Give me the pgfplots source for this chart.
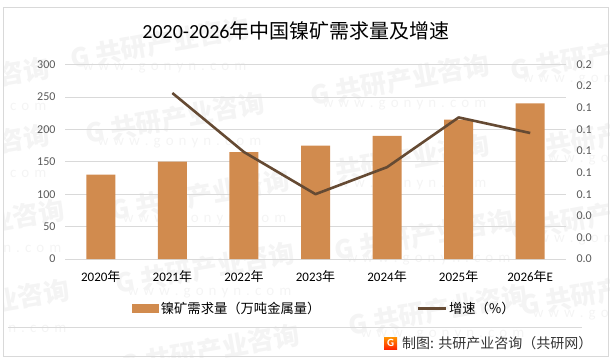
\documentclass[border=0pt]{standalone}
\usepackage{pgfplots}
\pgfplotsset{compat=1.18}
\usepackage{fontspec}
\setmainfont{Carlito}
\newfontfamily\cjk{Noto Sans CJK SC}
\definecolor{bar}{HTML}{D18B4E}
\definecolor{ln}{HTML}{654A33}
\definecolor{gridc}{HTML}{D9D9D9}
\definecolor{wm}{HTML}{F4F4F4}
\definecolor{tick}{HTML}{595959}
\newcommand{\wmark}[2]{%
  \node[rotate=10,text=wm,font=\cjk\bfseries\fontsize{26}{26}\selectfont,inner sep=0pt] at (#1,#2) {G 共研产业咨询};
  \begin{scope}[shift={(#1,#2)},rotate=10]
  \node[text=wm,font=\fontsize{15}{15}\selectfont,inner sep=0pt] at (0,-26) {w\,\,w\,\,w\,\,.\,\,g\,\,o\,\,n\,\,y\,\,n\,\,.\,\,c\,\,o\,\,m};
  \end{scope}}
\begin{document}
\begin{tikzpicture}[x=1pt,y=1pt]
\path[use as bounding box] (0,0) rectangle (612,361);
\begin{scope}
\clip (4,4) rectangle (609,354);
\wmark{160}{318}
\wmark{175}{243}
\wmark{400}{281}
\wmark{400}{201}
\wmark{200}{166}
\wmark{424}{126}
\wmark{205}{93}
\wmark{438}{51}
\wmark{210}{11}
\wmark{-40}{278}
\wmark{-40}{211}
\wmark{-25}{136}
\wmark{-20}{56}
\wmark{600}{306}
\wmark{610}{226}
\wmark{600}{146}
\wmark{610}{71}
\end{scope}
\draw[gridc,line width=0.8pt] (3.7,4.3) rectangle (608.7,354);
\draw[gridc,line width=0.8pt] (8,34) -- (582,34);
\node[font=\fontsize{20}{22}\selectfont,inner sep=0pt] at (296,330.5) {2020-2026{\cjk 年中国镍矿需求量及增速}};
\begin{axis}[
  at={(65pt,102pt)},anchor=south west,
  width=501pt,height=194.5pt,scale only axis,
  xmin=-0.5,xmax=6.5,ymin=0,ymax=300,
  ytick={0,50,100,150,200,250,300},
  /pgf/number format/assume math mode=true,
  xtick={0,...,6},
  xticklabels={2020{\cjk 年},2021{\cjk 年},2022{\cjk 年},2023{\cjk 年},2024{\cjk 年},2025{\cjk 年},2026{\cjk 年}E},
  tick style={draw=none},
  ymajorgrids,grid style={gridc,line width=0.8pt},
  axis y line*=left,axis x line*=bottom,
  y axis line style={draw=none},
  x axis line style={gridc,-,line width=0.8pt},
  yticklabel style={font=\fontsize{12}{12}\selectfont,text=tick,xshift=-6pt},
  xticklabel style={font=\fontsize{13}{13}\selectfont,text=black,yshift=-8pt},
]
\addplot[ybar,bar width=29pt,fill=bar,draw=none,forget plot] coordinates {(0,130)(1,150)(2,165)(3,175)(4,190)(5,215)(6,240)};
\end{axis}
\begin{axis}[
  at={(65pt,102pt)},anchor=south west,
  width=501pt,height=194.5pt,scale only axis,
  xmin=-0.5,xmax=6.5,ymin=0,ymax=0.18,
  axis y line*=right,axis x line=none,
  y axis line style={draw=none},
  tick style={draw=none},
  ytick={0,0.02,0.04,0.06,0.08,0.1,0.12,0.14,0.16,0.18},
  yticklabels={0.0,0.0,0.0,0.1,0.1,0.1,0.1,0.1,0.2,0.2},
  yticklabel style={font=\fontsize{12}{12}\selectfont,text=tick,xshift=7pt},
  legend columns=2,
  legend style={at={(0.518,-0.255)},anchor=center,draw=none,fill=none,font=\fontsize{13.3}{13}\selectfont\cjk,
     /tikz/every even column/.append style={column sep=94pt}},
  legend cell align=left,
]
\addlegendimage{area legend,legend image code/.code={\fill[bar] (-2pt,-4pt) rectangle (24pt,4pt);}}
\addlegendentry{镍矿需求量（万吨金属量）}
\addplot[ln,line width=2.6pt,line join=round,legend image code/.code={\draw[ln,line width=2.6pt] (-2pt,0pt) -- (26pt,0pt);}] coordinates {(1,0.1536)(2,0.099)(3,0.06)(4,0.085)(5,0.131)(6,0.1166)};
\addlegendentry{增速（\%）}
\end{axis}
\shade[top color=orange!85!yellow,bottom color=red!70!orange] (384,12) rectangle (397,24);
\node[text=white,font=\bfseries\fontsize{11}{11}\selectfont,inner sep=0pt] at (390.5,18) {G};
\node[anchor=west,inner sep=0pt,text=black!80,font=\cjk\fontsize{14}{14}\selectfont] at (402,17.5) {制图: 共研产业咨询（共研网）};
\end{tikzpicture}
\end{document}
